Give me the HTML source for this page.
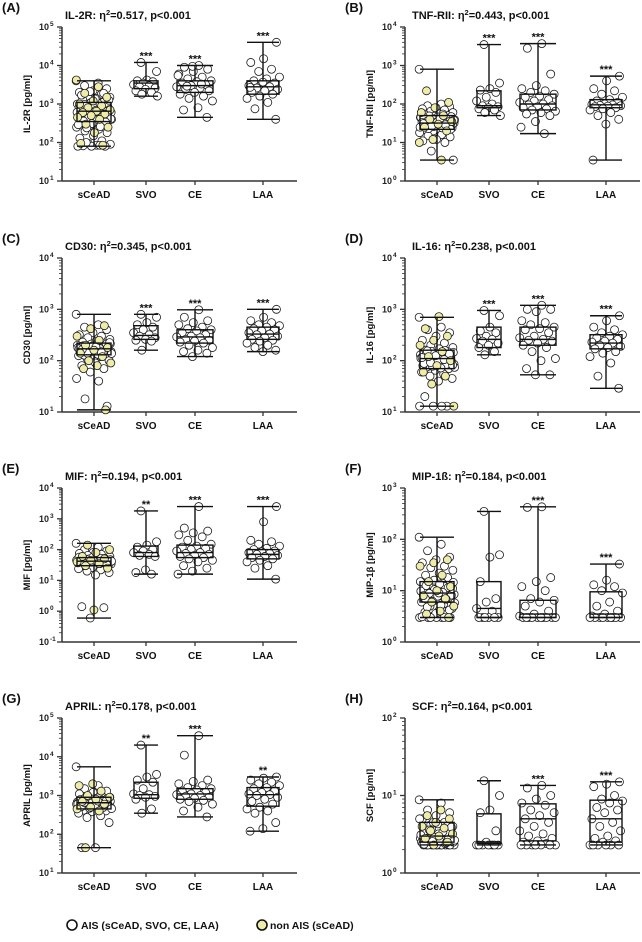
<!DOCTYPE html>
<html><head><meta charset="utf-8"><style>
html,body{margin:0;padding:0;background:#fff}
svg{display:block;font-family:"Liberation Sans",Arial,sans-serif}
</style></head><body>
<svg id="fig" width="642" height="942" viewBox="0 0 642 942" xmlns="http://www.w3.org/2000/svg"></svg>
<script>
const categories = ["sCeAD","SVO","CE","LAA"];
// box stats [min,q1,median,q3,max] per group
const A_box=[[80,350,650,1100,4000],[1600,2500,3500,4000,12000],[450,2000,3000,4000,10000],[400,1800,2800,4000,40000]];
const B_box=[[3.5,22,32,50,800],[50,80,90,220,3500],[17,70,100,180,3700],[3.5,80,95,130,530]];
const C_box=[[11,130,170,220,800],[160,260,310,480,800],[120,220,290,400,980],[150,260,330,450,1000]];
const D_box=[[13,70,110,160,700],[130,180,260,450,950],[53,200,260,450,1200],[29,170,220,320,750]];
const E_box=[[0.6,30,42,55,160],[16,60,80,130,1800],[16,55,80,140,2500],[11,50,70,100,2500]];
const F_box=[[3,6,9,15,110],[3,3,4.5,15,350],[3,3,3.5,6.5,430],[3,3,3.5,9.5,33]];
const G_box=[[45,450,650,900,5500],[350,850,1050,2200,20000],[280,800,1100,1500,35000],[120,530,1050,1600,3000]];
const H_box=[[2.3,2.5,3,4.5,8.8],[2.3,2.4,2.5,5.8,15.5],[2.3,2.6,5,7.8,13.5],[2.3,2.5,5,8.7,15]];
// significance labels
const A_stars=["","***","***","***"],B_stars=["","***","***","***"],C_stars=["","***","***","***"],D_stars=["","***","***","***"];
const E_stars=["","**","***","***"],F_stars=["","","***","***"],G_stars=["","**","***","**"],H_stars=["","","***","***"];
// points: AIS per group, plus non-AIS sCeAD
const A_pts=[[4000,3500,3000,2500,2200,2000,1800,1600,1500,1400,1300,1200,1100,1000,950,900,850,800,750,700,650,600,580,550,500,480,450,420,400,380,350,320,300,280,250,220,200,180,150,130,110,95,90,85,82,80,80,80,85,100,700,600,900,1100,500,400,
 1050,980,920,870,820,780,740,720,690,660,640,620,610,590,570,540,520,490,470,440,410,390,360,340,310,290,260,240,1250,1350,1700,1900,2100],
[12000,7000,4200,4000,3800,3500,3200,3000,2800,2600,2400,2200,2000,1800,1600],
[10000,9000,8000,7000,6000,5000,4500,4000,3800,3500,3200,3000,2800,2600,2400,2200,2000,1800,1600,1400,1200,800,700,450,9500,5500,3300,2900],
[40000,15000,12000,8000,7000,5000,4500,4000,3500,3200,3000,2800,2600,2400,2200,2000,1800,1600,1400,1100,750,400,3700,2700]];
const A_non=[4200,2800,1900,1500,1200,1000,900,800,700,650,600,550,500,450,400,300,250,180,95,85];
const B_pts=[[800,100,90,85,80,75,70,65,60,55,52,50,48,45,42,40,38,36,35,34,33,32,31,30,29,28,27,26,25,24,23,22,21,20,18,16,15,14,12,11,10,6,3.5,40,35,30,28,45,55,
 49,47,46,44,43,41,39,37,36,35,34,33,32,31,30,29,28,27,26,25,24,23,22,33,31,29,27,38,42],
[3500,350,250,230,200,150,120,100,90,85,80,75,70,60,50],
[3700,2800,600,300,250,220,200,180,160,150,130,120,110,100,95,90,85,80,75,70,65,60,55,50,35,25,17],
[530,400,250,220,180,150,130,120,110,100,98,95,92,90,88,85,80,75,70,60,50,40,30,3.5]];
const B_non=[220,110,80,60,50,40,35,30,25,20,12,10,3.5];
const C_pts=[[800,500,450,400,350,320,300,280,260,240,230,220,210,200,190,180,175,170,165,160,155,150,145,140,135,130,125,120,110,100,90,80,70,60,45,40,18,13,200,180,160,150,
 215,205,195,188,182,178,172,168,163,158,153,148,143,138,133,128,210,190,170,150,140,225,185,165],
[800,700,550,500,450,400,350,320,300,280,260,250,240,160],
[980,700,600,550,500,450,420,400,380,350,320,300,290,280,260,250,240,230,220,200,180,160,150,140,120],
[1000,700,600,550,500,480,450,420,400,380,350,330,320,300,280,260,250,240,220,200,180,160,150]];
const C_non=[480,420,300,250,200,180,160,140,120,100,90,80,70,11];
const D_pts=[[700,450,400,350,300,250,220,200,180,170,160,150,140,130,120,115,110,105,100,95,90,85,80,75,70,65,60,55,50,45,40,20,13,13,13,13,150,120,100,80,
 158,152,145,138,132,126,118,112,108,102,98,94,88,84,78,74,72,155,135,125,115,105,92,82],
[950,750,450,380,350,300,270,260,240,220,200,180,150,130],
[1200,1000,1000,900,600,550,500,450,420,400,350,300,280,260,250,240,220,200,180,150,110,100,70,53,53],
[750,600,450,400,350,320,300,280,260,240,230,220,200,190,180,170,150,140,120,90,50,29]];
const D_non=[720,420,300,250,200,150,120,100,80,60,50,35,13];
const E_pts=[[160,120,100,90,80,75,70,65,60,58,55,52,50,48,46,44,42,40,38,36,35,34,32,30,28,26,24,22,20,18,15,1.4,1.3,0.6,45,50,40,38,
 54,53,51,49,47,45,43,41,39,37,35,33,31,44,46,48,50,42,40,36,34,56,57,52],
[1800,180,140,120,100,90,80,70,65,60,22,18,16],
[2500,500,400,350,300,260,200,150,130,120,110,100,90,80,75,70,65,60,55,50,45,40,30,25,20,16],
[2500,800,200,180,150,130,110,100,90,85,80,75,70,65,60,55,50,45,40,30,25,11]];
const E_non=[140,100,80,60,50,45,40,35,30,25,1.1];
const F_pts=[[110,80,60,45,40,35,30,28,25,22,20,18,16,15,14,13,12,11,10,9.5,9,8.5,8,7.5,7,6.5,6,5.5,5,4.5,4,3.8,3.5,3.2,3,3,3,3,3,10,12,8,
 14.5,13.5,12.5,11.5,10.5,9.8,9.2,8.8,8.2,7.8,7.2,6.8,6.2,5.8,5.2,4.8,4.2,3.6,3.1,3,3,11,9,7],
[350,50,45,15,7,6,4.5,4,3,3,3,3,3,3],
[430,420,18,15,12,10,7,6.5,6,5,4,3.5,3.2,3,3,3,3,3,3,3,3,3,3],
[33,16,13,12,10,9,6,5,4,3.5,3.2,3,3,3,3,3,3,3,3,3]];
const F_non=[40,35,30,20,15,12,10,8,7,6,5,4,3.5,3];
const G_pts=[[5500,1800,1500,1300,1200,1100,1000,950,900,850,800,750,700,680,650,620,600,580,550,520,500,480,450,420,400,380,350,300,270,200,45,45,700,650,600,
 880,860,830,810,780,760,730,710,690,670,640,630,610,590,570,560,540,510,490,470,460,720,660,740],
[20000,3500,3000,2500,2200,1500,1100,1050,1000,950,900,800,450,350],
[35000,11000,2500,2300,2000,1800,1600,1500,1400,1300,1200,1100,1050,1000,950,900,850,800,750,700,600,500,400,280],
[3000,2800,2500,2200,2000,1800,1600,1500,1300,1200,1100,1050,1000,900,800,700,600,500,450,400,350,200,140,120]];
const G_non=[2000,1800,1300,1000,900,800,700,600,500,450,400,45];
const H_pts=[[8.8,8,6.5,6,5.5,5,4.5,4.2,4,3.8,3.5,3.3,3,2.8,2.6,2.5,2.4,2.3,2.3,2.3,2.3,2.3,2.3,2.3,2.3,2.4,2.5,2.6,2.8,3,3.2,3.5,4,4.5,5,
 2.3,2.3,2.3,2.3,2.4,2.4,2.5,2.5,2.6,2.7,2.7,2.9,3.1,3.4,3.6,3.9,4.3,2.35,2.45,2.55,2.65],
[15.5,10,6.5,6,3.5,2.5,2.3,2.3,2.3,2.3,2.3,2.3,2.3],
[13.5,12.5,10,9,8,7.5,6.5,6,5.5,5,4.5,4,3.5,3.2,3,2.8,2.6,2.5,2.4,2.3,2.3,2.3,2.3,2.3,2.3,2.3],
[15,14,13,10,9,8.5,8,7,6.5,6,5,4.5,4,3.5,3,2.8,2.6,2.5,2.3,2.3,2.3,2.3,2.3,2.3]];
const H_non=[6.5,5.5,5,4.5,4,3.8,3.5,3.2,3,2.8,2.5,2.3];

const panels=[
 {id:"A",name:"IL-2R",eta:"0.517",ylab:"IL-2R [pg/ml]",dec:[1,5],box:A_box,pts:A_pts,non:A_non,stars:A_stars,col:0,row:0},
 {id:"B",name:"TNF-RII",eta:"0.443",ylab:"TNF-RII [pg/ml]",dec:[0,4],box:B_box,pts:B_pts,non:B_non,stars:B_stars,col:1,row:0},
 {id:"C",name:"CD30",eta:"0.345",ylab:"CD30 [pg/ml]",dec:[1,4],box:C_box,pts:C_pts,non:C_non,stars:C_stars,col:0,row:1},
 {id:"D",name:"IL-16",eta:"0.238",ylab:"IL-16 [pg/ml]",dec:[1,4],box:D_box,pts:D_pts,non:D_non,stars:D_stars,col:1,row:1},
 {id:"E",name:"MIF",eta:"0.194",ylab:"MIF [pg/ml]",dec:[-1,4],box:E_box,pts:E_pts,non:E_non,stars:E_stars,col:0,row:2},
 {id:"F",name:"MIP-1ß",eta:"0.184",ylab:"MIP-1β [pg/ml]",dec:[0,3],box:F_box,pts:F_pts,non:F_non,stars:F_stars,col:1,row:2},
 {id:"G",name:"APRIL",eta:"0.178",ylab:"APRIL [pg/ml]",dec:[1,5],box:G_box,pts:G_pts,non:G_non,stars:G_stars,col:0,row:3},
 {id:"H",name:"SCF",eta:"0.164",ylab:"SCF [pg/ml]",dec:[0,2],box:H_box,pts:H_pts,non:H_non,stars:H_stars,col:1,row:3}
];
const NS="http://www.w3.org/2000/svg";
const svg=document.getElementById("fig");
function mk(tag,attrs,parent){const e=document.createElementNS(NS,tag);for(const k in attrs)e.setAttribute(k,attrs[k]);(parent||svg).appendChild(e);return e;}
const tops=[27,258,488,718],bottoms=[181,412,642,873];
const axX=[62,405],axEnd=[297,640],catOff=[32,84,133,201],boxW=[34,24,36,32];
panels.forEach(p=>{
 const g=mk("g",{});
 
 
 const x0=axX[p.col],x1=axEnd[p.col],yt=tops[p.row],yb=bottoms[p.row];
 const d0=p.dec[0],d1=p.dec[1];
 const Y=v=>yb-(Math.log10(v)-d0)/(d1-d0)*(yb-yt);
 const X=i=>x0+catOff[i];
 const lt=mk("text",{x:p.col?345:2,y:yt-15,"font-size":"13","font-weight":"bold",fill:"#111"},g);lt.textContent="("+p.id+")";
 
 const tt=mk("text",{x:p.col?412:65,y:yt-8,"font-size":"11","font-weight":"bold",fill:"#111"},g);
 
 tt.appendChild(document.createTextNode(p.name+": η"));
 const sp=mk("tspan",{"font-size":"7.5",dy:"-4"},tt);sp.textContent="2";
 const sp2=mk("tspan",{dy:"4"},tt);sp2.textContent="="+p.eta+", p<0.001";
 const yl=mk("text",{transform:`translate(${x0-32},${(yt+yb)/2}) rotate(-90)`,"text-anchor":"middle","font-size":"9.5","font-weight":"bold",fill:"#111"},g);
 yl.textContent=p.ylab;
 const ya=mk("line",{x1:x0,y1:yt,x2:x0,y2:yb,stroke:"#333","stroke-width":"1.5"},g);
 
 const xa=mk("line",{x1:x0,y1:yb,x2:x1,y2:yb,stroke:"#333","stroke-width":"1.5"},g);
 
 for(let d=d0;d<=d1;d++){
  const y=Y(Math.pow(10,d));
  mk("line",{x1:x0-5,y1:y,x2:x0,y2:y,stroke:"#333","stroke-width":"1.3"},g);
  const tl=mk("text",{x:x0-13,y:y+3,"text-anchor":"end","font-size":"9","font-weight":"bold",fill:"#222"},g);
  tl.textContent="10";
  const ex=mk("text",{x:x0-12,y:y-1,"font-size":"6.5","font-weight":"bold",fill:"#222"},g);ex.textContent=String(d);
  if(d<d1)for(let m=2;m<10;m++){const ym=Y(m*Math.pow(10,d));mk("line",{x1:x0-3,y1:ym,x2:x0,y2:ym,stroke:"#333","stroke-width":"0.8"},g);}
 }
 categories.forEach((c,i)=>{
  const cx=X(i);
  mk("line",{x1:cx,y1:yb,x2:cx,y2:yb+4,stroke:"#333","stroke-width":"1.3"},g);
  const cl=mk("text",{x:cx,y:yb+17,"text-anchor":"middle","font-size":"10","font-weight":"bold",fill:"#111"},g);
  cl.textContent=c;
  const w=boxW[i];
  const draw=(vals,fill,off)=>vals.forEach((v,k)=>{
   const j=((k*0.618034+i*0.3+off)%1)-0.5;
   const ci=mk("circle",{cx:cx+j*w*1.05,cy:Y(v),r:4,fill:fill,stroke:"#1a1a1a","stroke-width":"0.8"},g);
   
  });
  if(i===0){
   const all=p.pts[0].map(v=>[v,0]).concat(p.non.map(v=>[v,1]));
   all.forEach((a,k)=>{
    const j=((k*0.618034)%1)-0.5;
    const ci=mk("circle",{cx:cx+j*w*1.05,cy:Y(a[0]),r:4,fill:a[1]?"#efeca8":"#fff",stroke:"#1a1a1a","stroke-width":"0.8"},g);
    
   });
  } else draw(p.pts[i],"#fff",0);
  const b=p.box[i];
  const bg=mk("g",{stroke:"#111","stroke-width":"1.4",fill:"none"},g);
  
  mk("rect",{x:cx-w/2,y:Y(b[3]),width:w,height:Y(b[1])-Y(b[3])},bg);
  mk("line",{x1:cx-w/2,y1:Y(b[2]),x2:cx+w/2,y2:Y(b[2])},bg);
  mk("line",{x1:cx,y1:Y(b[4]),x2:cx,y2:Y(b[3])},bg);
  mk("line",{x1:cx,y1:Y(b[1]),x2:cx,y2:Y(b[0])},bg);
  mk("line",{x1:cx-w/2,y1:Y(b[4]),x2:cx+w/2,y2:Y(b[4])},bg);
  mk("line",{x1:cx-w/2,y1:Y(b[0]),x2:cx+w/2,y2:Y(b[0])},bg);
  if(p.stars[i]){const st=mk("text",{x:cx,y:Y(b[4])-3,"text-anchor":"middle","font-size":"11","font-weight":"bold",fill:"#111"},g);
   st.textContent=p.stars[i];}
 });
});
const lg=mk("g",{});


mk("circle",{cx:72,cy:925,r:5,fill:"#fff",stroke:"#111","stroke-width":"1.6"},lg);
const l1=mk("text",{x:81,y:929,"font-size":"10.5","font-weight":"bold",fill:"#111"},lg);l1.textContent="AIS (sCeAD, SVO, CE, LAA)";

mk("circle",{cx:262,cy:925,r:5,fill:"#efeca8",stroke:"#111","stroke-width":"1.6"},lg);
const l2=mk("text",{x:270,y:929,"font-size":"10.5","font-weight":"bold",fill:"#111"},lg);l2.textContent="non AIS (sCeAD)";

</script>
</body></html>
